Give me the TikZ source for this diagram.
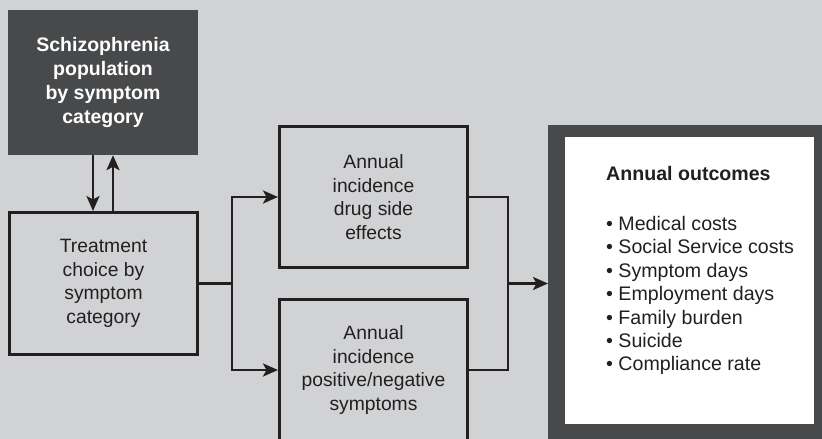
\documentclass[tikz,border=0pt]{standalone}
\usepackage{fontspec}
\setmainfont{Liberation Sans}
\usetikzlibrary{arrows.meta}
\definecolor{bg}{HTML}{D1D2D4}
\definecolor{dk}{HTML}{48494B}
\definecolor{ln}{HTML}{231F20}
\begin{document}
\begin{tikzpicture}[x=1pt,y=-1pt,
 box/.style={draw=ln,line width=3pt,minimum width=188pt,minimum height=141pt,inner sep=0pt,align=center,font=\fontsize{19.3}{23.6}\selectfont,text=ln},
 conn/.style={draw=ln,line width=2.6pt},
 arr/.style={conn,-{Stealth[length=15pt,width=13pt,inset=3.5pt]}},
]
\useasboundingbox (0,0) rectangle (822,439);
\fill[bg] (0,0) rectangle (822,439);
\begin{scope}
\clip (0,0) rectangle (822,439);
\node[fill=dk,minimum width=190pt,minimum height=145pt,inner sep=0pt,align=center,text=white,font=\fontsize{19.5}{24}\selectfont\bfseries] (pop) at (103,82.5) {Schizophrenia\\population\\by symptom\\category};
\node[box,minimum height=142pt] (treat) at (103.5,283.5) {Treatment\\choice by\\symptom\\category};
\node[box] (drug) at (373.5,197) {Annual\\incidence\\drug side\\effects};
\node[box] (pos) at (373.5,370) {Annual\\incidence\\positive/negative\\symptoms};
\node[fill=dk,minimum width=282pt,minimum height=325pt,inner sep=0pt,anchor=north west] (out) at (548,125) {};
\node[fill=white,minimum width=249pt,minimum height=287pt,inner sep=0pt,anchor=north west] (inner) at (565,137) {};
\node[anchor=north west,inner sep=0pt,align=left,text=ln,font=\fontsize{19.6}{23.4}\selectfont] (list) at (606,166) {\textbf{Annual outcomes}\\[26.6pt]%
• Medical costs\\• Social Service costs\\• Symptom days\\• Employment days\\• Family burden\\• Suicide\\• Compliance rate};
\coordinate (s) at (232,283.5);
\coordinate (m) at (508,283.5);
\draw[arr] ([xshift=-10pt]pop.south) -- ([xshift=-10.5pt]treat.north);
\draw[arr] ([xshift=9.5pt]treat.north) -- ([xshift=10pt]pop.south);
\draw[conn] (treat.east) -- (s);
\draw[arr] (s) |- (drug.west);
\draw[arr] (s) |- (pos.west);
\draw[conn] (drug.east) -| (m);
\draw[conn] (pos.east) -| (m);
\draw[arr] (m) -- (m -| out.west);
\end{scope}
\end{tikzpicture}
\end{document}
